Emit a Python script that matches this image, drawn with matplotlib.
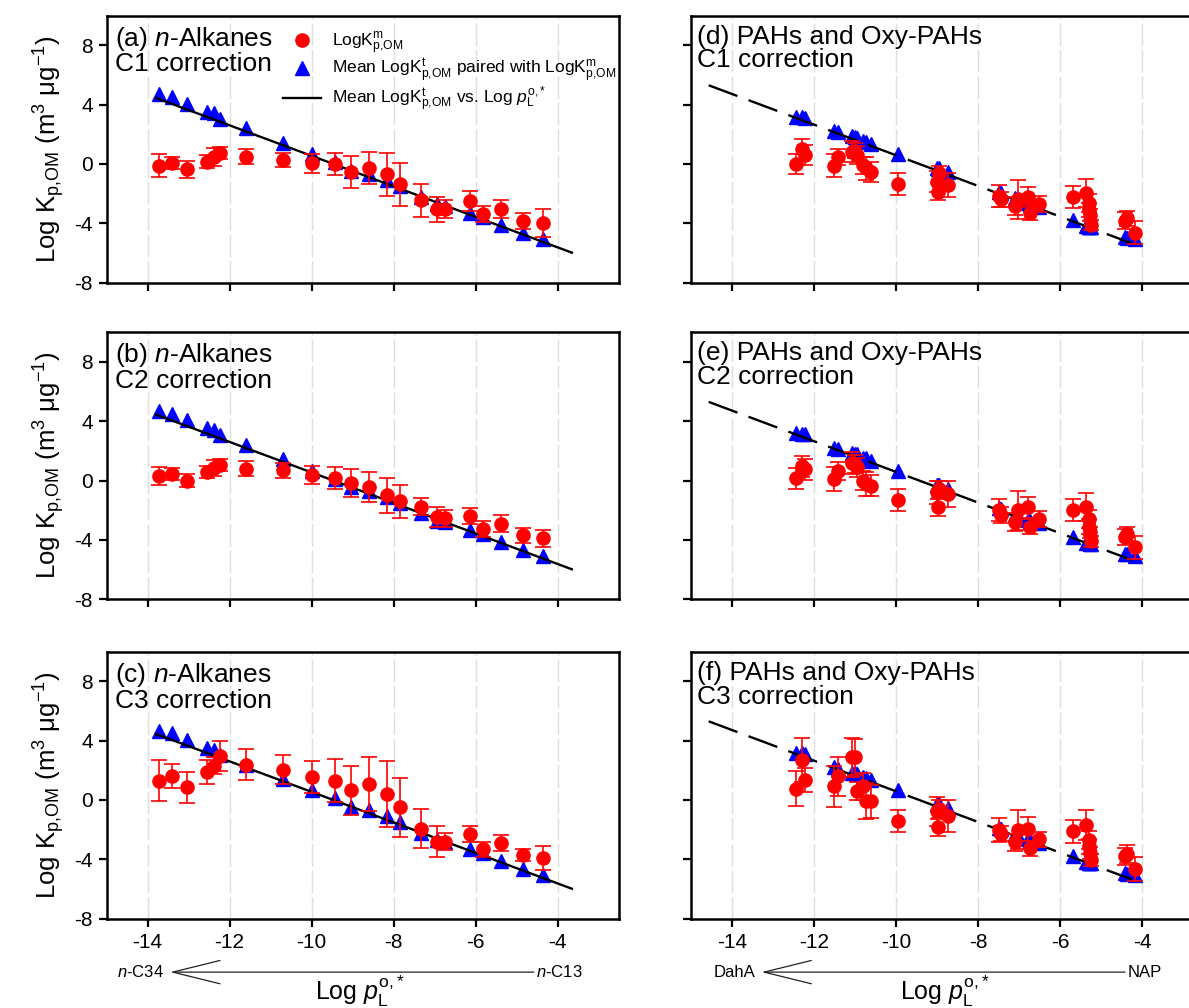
import numpy as np
import matplotlib
matplotlib.use("Agg")
import matplotlib.pyplot as plt
from matplotlib.lines import Line2D
from matplotlib import transforms

plt.rcParams['font.family'] = ['Liberation Sans', 'DejaVu Sans']
plt.rcParams['mathtext.fontset'] = 'custom'
plt.rcParams['mathtext.rm'] = 'Liberation Sans'
plt.rcParams['mathtext.it'] = 'Liberation Sans:italic'
plt.rcParams['mathtext.bf'] = 'Liberation Sans:bold'
plt.rcParams['axes.unicode_minus'] = False

# ---------------- n-alkanes ----------------
alk_logp = [-13.73, -13.41, -13.04, -12.54, -12.37, -12.24, -11.59, -10.69, -10.00, -9.44, -9.05,
            -8.60, -8.17, -7.85, -7.32, -6.95, -6.74, -6.14, -5.82, -5.38, -4.83, -4.36]
alk_kt = [4.68, 4.48, 4.07, 3.51, 3.40, 3.06, 2.39, 1.42, 0.66, 0.10, -0.46,
          -0.68, -1.09, -1.50, -2.21, -2.70, -2.82, -3.33, -3.60, -4.14, -4.68, -5.08]
alk_km_c1 = [-0.12, 0.08, -0.37, 0.15, 0.48, 0.75, 0.48, 0.26, 0.03, -0.03, -0.53,
             -0.26, -0.71, -1.36, -2.44, -3.04, -3.06, -2.48, -3.38, -3.02, -3.85, -3.96]
alk_err_c1 = [0.77, 0.42, 0.58, 0.42, 0.60, 0.40, 0.50, 0.47, 0.65, 0.74, 1.07,
              1.09, 1.46, 1.45, 1.12, 0.84, 0.60, 0.67, 0.56, 0.62, 0.54, 0.94]
alk_km_c2 = [0.30, 0.45, 0.00, 0.60, 0.85, 1.05, 0.80, 0.70, 0.40, 0.15, -0.15,
             -0.45, -1.00, -1.40, -1.75, -2.45, -2.55, -2.40, -3.25, -2.90, -3.70, -3.90]
alk_err_c2 = [0.60, 0.40, 0.45, 0.40, 0.55, 0.40, 0.50, 0.50, 0.60, 0.75, 0.95,
              1.00, 1.20, 1.10, 0.60, 0.65, 0.55, 0.55, 0.55, 0.55, 0.50, 0.60]
alk_km_c3 = [1.31, 1.64, 0.85, 1.89, 2.32, 2.95, 2.39, 2.05, 1.53, 1.31, 0.65,
             1.08, 0.40, -0.50, -1.94, -2.80, -2.80, -2.30, -3.31, -2.91, -3.70, -3.92]
alk_err_c3 = [1.37, 0.80, 1.06, 0.80, 0.60, 1.00, 1.04, 0.97, 1.07, 1.43, 1.63,
              1.84, 2.24, 1.98, 1.32, 1.07, 0.60, 0.53, 0.50, 0.56, 0.42, 0.81]
alk_line_x = [-13.80, -3.65]
alk_line_y = [4.45, -5.98]

# ---------------- PAHs and oxy-PAHs ----------------
pah_logp = [-12.44, -12.30, -12.21, -11.52, -11.41, -11.07, -11.00, -10.95, -10.80, -10.74, -10.61,
            -9.94, -8.99, -8.97, -8.95, -8.72, -7.49, -7.43, -7.10, -7.03, -6.77, -6.73, -6.50,
            -5.68, -5.36, -5.30, -5.28, -5.27, -5.25, -4.41, -4.37, -4.17]
pah_kt = [3.18, 3.15, 3.11, 2.21, 2.12, 1.85, 1.80, 1.78, 1.55, 1.49, 1.33,
          0.66, -0.30, -0.33, -0.30, -0.57, -1.87, -1.95, -2.32, -2.40, -2.65, -2.70, -2.88,
          -3.78, -4.19, -4.22, -4.24, -4.25, -4.27, -4.95, -4.98, -5.08]
pah_km_c1 = [-0.01, 0.98, 0.59, -0.12, 0.48, 0.82, 0.90, 0.59, -0.10, -0.30, -0.53,
             -1.36, -1.20, -1.87, -0.64, -1.43, -2.17, -2.39, -2.84, -2.39, -2.21, -3.29, -2.70,
             -2.21, -1.94, -2.66, -3.11, -3.44, -4.12, -3.83, -3.67, -4.63]
pah_err_c1 = [0.67, 0.67, 0.67, 0.76, 0.53, 0.70, 0.50, 0.60, 0.60, 0.78, 0.68,
              0.73, 0.70, 0.56, 0.50, 0.82, 0.73, 0.50, 0.60, 1.30, 0.67, 0.50, 0.56,
              0.75, 0.95, 0.60, 0.50, 0.40, 0.36, 0.56, 0.50, 0.78]
pah_km_c2 = [0.15, 0.95, 0.75, 0.10, 0.65, 1.20, 1.10, 0.90, 0.00, -0.25, -0.35,
             -1.30, -0.80, -1.80, -0.60, -0.90, -2.00, -2.30, -2.80, -2.00, -1.80, -3.10, -2.60,
             -2.00, -1.80, -2.60, -3.10, -3.50, -4.10, -3.80, -3.60, -4.50]
pah_err_c2 = [0.70, 0.70, 0.70, 0.80, 0.60, 0.75, 0.60, 0.65, 0.65, 0.80, 0.70,
              0.75, 0.80, 0.58, 0.55, 0.85, 0.75, 0.55, 0.62, 1.30, 0.70, 0.50, 0.56,
              0.75, 0.95, 0.60, 0.50, 0.40, 0.38, 0.56, 0.50, 0.78]
pah_km_c3 = [0.77, 2.68, 1.37, 0.92, 1.60, 2.88, 2.91, 0.58, 0.92, -0.09, -0.09,
             -1.40, -0.77, -1.85, -0.60, -1.06, -2.00, -2.28, -2.86, -2.00, -1.96, -3.25, -2.64,
             -2.12, -1.67, -2.68, -3.13, -3.58, -4.04, -3.80, -3.63, -4.64]
pah_err_c3 = [1.20, 1.50, 0.80, 1.40, 1.30, 1.30, 1.20, 0.60, 0.90, 1.20, 1.10,
              0.75, 1.00, 0.60, 0.60, 1.07, 0.80, 0.50, 0.60, 1.30, 0.80, 0.50, 0.50,
              0.78, 1.00, 0.60, 0.50, 0.40, 0.40, 0.55, 0.60, 0.80]
pah_line_x = [-14.57, -4.25]
pah_line_y = [5.30, -5.35]

alk_titles = ["(a) $n$-Alkanes\nC1 correction", "(b) $n$-Alkanes\nC2 correction",
              "(c) $n$-Alkanes\nC3 correction"]
pah_titles = ["(d) PAHs and Oxy-PAHs\nC1 correction", "(e) PAHs and Oxy-PAHs\nC2 correction",
              "(f) PAHs and Oxy-PAHs\nC3 correction"]
x_ticks = [-14, -12, -10, -8, -6, -4]
y_ticks = [-8, -4, 0, 4, 8]

RED = '#ff0000'
BLUE = '#0000ff'

fig = plt.figure(figsize=(11.89, 10.08), dpi=100)

col_x = [0.0897, 0.5812]
ax_w = 0.4309
row_y = [0.7196, 0.4055, 0.0886]
ax_h = 0.2650


def style_axes(ax, show_xlabels, show_ylabels):
    ax.set_xlim(-15, -2.5)
    ax.set_ylim(-8, 10)
    ax.set_xticks(x_ticks)
    ax.set_yticks(y_ticks)
    ax.tick_params(axis='both', direction='out', length=6, width=1.6, labelsize=15,
                   top=False, right=False, pad=4)
    if not show_xlabels:
        ax.tick_params(axis='x', labelbottom=False)
    if not show_ylabels:
        ax.tick_params(axis='y', labelleft=False)
    for sp in ax.spines.values():
        sp.set_linewidth(1.8)
    ax.grid(axis='x', color='#dedede', linestyle=(0, (16, 3)), linewidth=1.0, zorder=0)
    ax.set_axisbelow(True)


def draw_panel(ax, logp, kt, km, err, lx, ly, dashed):
    ax.plot(logp, kt, linestyle='none', marker='^', ms=10, color=BLUE, zorder=2)
    if dashed:
        ax.plot(lx, ly, color='black', lw=1.7, linestyle=(0, (13, 5)), zorder=3)
    else:
        ax.plot(lx, ly, color='black', lw=1.7, zorder=3)
    ax.errorbar(logp, km, yerr=err, fmt='o', ms=9.5, color=RED, ecolor=RED,
                elinewidth=1.2, capsize=5.5, capthick=1.2, zorder=4)


ylabel = "Log K$_{\\mathrm{p{,}OM}}$ (m$^{3}$ μg$^{-1}$)"
xlabel = "Log $\\mathit{p}^{\\mathrm{o{,}*}}_{\\mathrm{L}}$"

alk_km = [alk_km_c1, alk_km_c2, alk_km_c3]
alk_err = [alk_err_c1, alk_err_c2, alk_err_c3]
pah_km = [pah_km_c1, pah_km_c2, pah_km_c3]
pah_err = [pah_err_c1, pah_err_c2, pah_err_c3]

axes_left = []
axes_right = []
for r in range(3):
    axl = fig.add_axes([col_x[0], row_y[r], ax_w, ax_h])
    style_axes(axl, r == 2, True)
    draw_panel(axl, alk_logp, alk_kt, alk_km[r], alk_err[r], alk_line_x, alk_line_y, False)
    axl.text(0.016, 0.965, alk_titles[r], transform=axl.transAxes, ha='left', va='top',
             fontsize=19, linespacing=0.98)
    axl.set_ylabel(ylabel, fontsize=18.5, labelpad=5)
    axes_left.append(axl)

    axr = fig.add_axes([col_x[1], row_y[r], ax_w, ax_h])
    style_axes(axr, r == 2, False)
    draw_panel(axr, pah_logp, pah_kt, pah_km[r], pah_err[r], pah_line_x, pah_line_y, True)
    axr.text(0.012, 0.965, pah_titles[r], transform=axr.transAxes, ha='left', va='top',
             fontsize=19, linespacing=0.98)
    axes_right.append(axr)

# legend in panel (a)
handles = [
    Line2D([], [], linestyle='none', marker='o', ms=9.5, color=RED),
    Line2D([], [], linestyle='none', marker='^', ms=10, color=BLUE),
    Line2D([], [], color='black', lw=1.7),
]
labels = [
    "LogK$^{\\mathrm{m}}_{\\mathrm{p{,}OM}}$",
    "Mean LogK$^{\\mathrm{t}}_{\\mathrm{p{,}OM}}$ paired with LogK$^{\\mathrm{m}}_{\\mathrm{p{,}OM}}$",
    "Mean LogK$^{\\mathrm{t}}_{\\mathrm{p{,}OM}}$ vs. Log $\\mathit{p}^{\\mathrm{o{,}*}}_{\\mathrm{L}}$",
]
leg = axes_left[0].legend(handles, labels, loc='upper left', bbox_to_anchor=(0.344, 0.945),
                          frameon=False, fontsize=12.5, handlelength=2.2, handletextpad=0.6,
                          labelspacing=0.0, borderpad=0, borderaxespad=0)
leg.set_zorder(10)


def vapour_arrow(ax, tip_x, end_x, left_label, right_label):
    trans = transforms.blended_transform_factory(ax.transData, ax.transAxes)
    yy = -0.2
    ax.annotate('', xy=(tip_x, yy), xytext=(end_x, yy), xycoords=trans, textcoords=trans,
                arrowprops=dict(arrowstyle='->,head_length=1.7,head_width=0.42',
                                color='#222222', lw=0.9, mutation_scale=20,
                                shrinkA=0, shrinkB=0),
                annotation_clip=False)
    ax.text(tip_x - 0.15, yy, left_label, transform=trans, ha='right', va='center',
            fontsize=12, clip_on=False)
    ax.text(end_x + 0.05, yy, right_label, transform=trans, ha='left', va='center',
            fontsize=12, clip_on=False)


vapour_arrow(axes_left[2], -13.45, -4.58, "$n$-C34", "$n$-C13")
vapour_arrow(axes_right[2], -13.28, -4.41, "DahA", "NAP")

for ax in (axes_left[2], axes_right[2]):
    ax.text(0.495, -0.305, xlabel, transform=ax.transAxes, ha='center', va='baseline',
            fontsize=18, clip_on=False)

fig.savefig("out.png", dpi=100)
